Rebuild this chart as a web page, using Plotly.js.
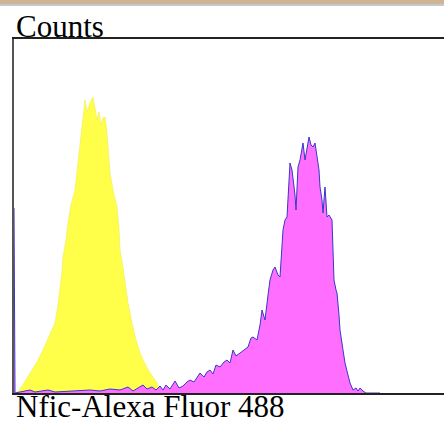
<!DOCTYPE html>
<html>
<head>
<meta charset="utf-8">
<script src="https://cdn.plot.ly/plotly-3.0.1.min.js"></script>
<style>html,body{margin:0;padding:0;background:#fff;}#chart{width:444px;height:421px;}</style>
</head>
<body>
<div id="chart"></div>
<script>
// Control (yellow) histogram: channel, counts
var controlChannel = [0,8,20,32,46,58,70,82,88,92,96,98,104,108,114,122,126,128,132,136,140,142,146,152,158,162,166,170,174,178,182,186,190,192,198,206,210,212,218,222,228,236,244,252,262,272,280,286,292,298,304];
var controlCounts  = [0,1,10,20,31,43,56,70,88,103,121,136,153,170,188,203,221,236,253,270,285,293,281,290,296,285,273,281,268,275,276,260,238,220,203,186,163,143,125,110,90,70,53,40,29,20,14,10,4,1,0];

// Nfic stained (magenta) histogram: channel, counts
var nficChannel = [0,2,12,32,42,68,82,132,152,172,192,212,228,238,248,258,266,276,284,292,298,304,312,322,330,338,346,352,360,368,372,380,386,392,398,404,412,420,426,432,438,444,452,460,468,474,478,486,492,496,502,508,512,518,522,528,532,538,542,546,550,552,556,558,562,564,568,572,578,582,586,590,594,598,602,606,610,612,616,618,622,626,630,636,638,640,644,646,650,652,658,662,668,672,678,684,688,692,698,704,732];
var nficCounts  = [185,0,1,3,1,3,1,2,3,2,4,3,6,2,5,8,4,6,3,7,3,8,4,12,5,7,11,13,11,17,20,16,21,23,19,28,26,31,33,30,43,37,40,43,46,55,56,53,68,83,73,98,113,123,126,118,116,163,173,176,208,230,223,216,198,183,226,233,250,233,243,256,248,246,250,236,223,206,193,180,206,176,178,173,143,113,103,100,78,63,43,30,18,10,3,5,2,5,2,0,0];

var xTitle = "Nfic-Alexa Fluor 488";
var yTitle = "Counts";

var traces = [
  {x: controlChannel, y: controlCounts, type: 'scatter', mode: 'lines', fill: 'tozeroy',
   fillcolor: '#ffff4a', line: {color: '#f4f060', width: 0.8}, hoverinfo: 'skip'},
  {x: nficChannel, y: nficCounts, type: 'scatter', mode: 'lines', fill: 'tozeroy',
   fillcolor: '#ff6eff', line: {color: '#3838c8', width: 1}, hoverinfo: 'skip'}
];

var serif = '"Liberation Serif", "Times New Roman", serif';
var layout = {
  width: 444, height: 421,
  margin: {l: 14, r: 0, t: 39, b: 28, pad: 0},
  paper_bgcolor: '#ffffff', plot_bgcolor: '#ffffff',
  showlegend: false,
  xaxis: {range: [0, 860], showgrid: false, zeroline: false, showticklabels: false, ticks: '',
          showline: true, linecolor: '#222', linewidth: 2, mirror: true, fixedrange: true},
  yaxis: {range: [0, 354], showgrid: false, zeroline: false, showticklabels: false, ticks: '',
          showline: true, linecolor: '#555', linewidth: 2, fixedrange: true},
  shapes: [
    {type: 'rect', xref: 'paper', yref: 'paper', x0: -0.04, x1: 1.01, y0: 1.0989, y1: 1.12,
     fillcolor: '#cdb595', line: {width: 0}, layer: 'above'},
    {type: 'line', xref: 'paper', yref: 'paper', x0: -0.04, x1: 1.01, y0: 1.0960, y1: 1.0960,
     line: {color: '#c8c8c8', width: 2}, layer: 'above'}
  ],
  annotations: [
    {text: yTitle, xref: 'paper', yref: 'paper', x: 0, y: 1, xanchor: 'left', yanchor: 'bottom',
     showarrow: false, font: {family: serif, size: 31, color: '#000'}, yshift: -7},
    {text: xTitle, xref: 'paper', yref: 'paper', x: 0, y: 0, xanchor: 'left', yanchor: 'top',
     showarrow: false, font: {family: serif, size: 31, color: '#000'}, yshift: 6}
  ]
};

Plotly.newPlot('chart', traces, layout, {staticPlot: true, displayModeBar: false});
</script>
</body>
</html>
